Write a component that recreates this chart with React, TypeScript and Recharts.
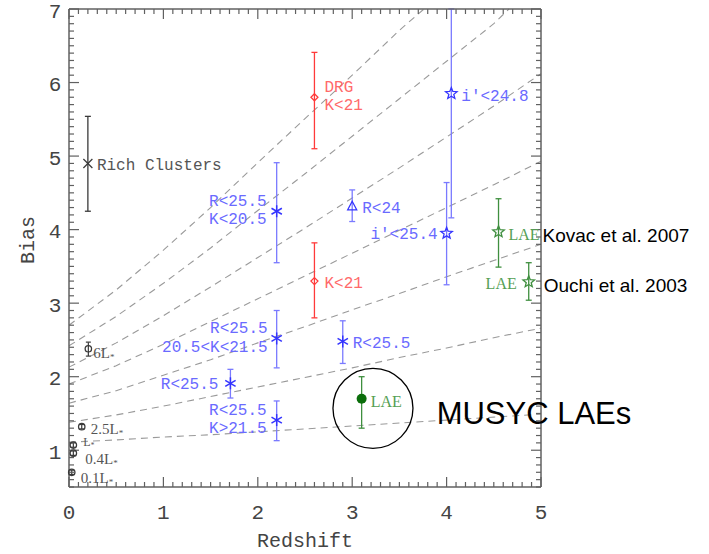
import React from 'react';
import { ComposedChart, XAxis, YAxis, Scatter, Line, ErrorBar, ReferenceDot } from 'recharts';

type Pt = { z: number; bias: number; err: number | [number, number]; label: string[] };
type TrackPt = { z: number; bias: number };
type Place = { side: 'left' | 'right'; dx: number; dy: number; size?: number };
type Note = { text: string; dx: number; dy: number; size: number };

// ---- dashed bias-evolution tracks (bias vs redshift) ----
const track1: TrackPt[] = [
  { z: 0, bias: 1.11 }, { z: 0.5, bias: 1.14 }, { z: 1, bias: 1.18 }, { z: 1.5, bias: 1.21 },
  { z: 2, bias: 1.25 }, { z: 2.5, bias: 1.29 }, { z: 3, bias: 1.33 }, { z: 3.5, bias: 1.37 },
  { z: 4, bias: 1.41 }, { z: 4.5, bias: 1.45 }, { z: 5, bias: 1.49 },
];
const track2: TrackPt[] = [
  { z: 0, bias: 1.38 }, { z: 0.5, bias: 1.48 }, { z: 1, bias: 1.6 }, { z: 1.5, bias: 1.73 },
  { z: 2, bias: 1.86 }, { z: 2.5, bias: 1.99 }, { z: 3, bias: 2.12 }, { z: 3.5, bias: 2.26 },
  { z: 4, bias: 2.39 }, { z: 4.5, bias: 2.53 }, { z: 5, bias: 2.66 },
];
const track3: TrackPt[] = [
  { z: 0, bias: 1.64 }, { z: 0.5, bias: 1.81 }, { z: 1, bias: 2.02 }, { z: 1.5, bias: 2.23 },
  { z: 2, bias: 2.46 }, { z: 2.5, bias: 2.68 }, { z: 3, bias: 2.91 }, { z: 3.5, bias: 3.13 },
  { z: 4, bias: 3.36 }, { z: 4.5, bias: 3.58 }, { z: 5, bias: 3.8 },
];
const track4: TrackPt[] = [
  { z: 0, bias: 1.9 }, { z: 0.5, bias: 2.15 }, { z: 1, bias: 2.44 }, { z: 1.5, bias: 2.75 },
  { z: 2, bias: 3.06 }, { z: 2.5, bias: 3.37 }, { z: 3, bias: 3.68 }, { z: 3.5, bias: 3.99 },
  { z: 4, bias: 4.3 }, { z: 4.5, bias: 4.61 }, { z: 5, bias: 4.93 },
];
const track5: TrackPt[] = [
  { z: 0, bias: 2.13 }, { z: 0.5, bias: 2.46 }, { z: 1, bias: 2.83 }, { z: 1.5, bias: 3.22 },
  { z: 2, bias: 3.62 }, { z: 2.5, bias: 4.02 }, { z: 3, bias: 4.43 }, { z: 3.5, bias: 4.84 },
  { z: 4, bias: 5.26 }, { z: 4.5, bias: 5.68 }, { z: 5, bias: 6.12 },
];
const track6: TrackPt[] = [
  { z: 0, bias: 2.42 }, { z: 0.5, bias: 2.82 }, { z: 1, bias: 3.27 }, { z: 1.5, bias: 3.75 },
  { z: 2, bias: 4.26 }, { z: 2.5, bias: 4.76 }, { z: 3, bias: 5.27 }, { z: 3.5, bias: 5.78 },
  { z: 4, bias: 6.29 }, { z: 4.5, bias: 6.8 }, { z: 4.66, bias: 7.0 },
];
const track7: TrackPt[] = [
  { z: 0, bias: 2.7 }, { z: 0.5, bias: 3.18 }, { z: 1, bias: 3.72 }, { z: 1.5, bias: 4.3 },
  { z: 2, bias: 4.91 }, { z: 2.5, bias: 5.51 }, { z: 3, bias: 6.1 }, { z: 3.5, bias: 6.71 },
  { z: 3.76, bias: 7.0 },
];
const tracks = [track1, track2, track3, track4, track5, track6, track7];

// ---- measurements ----
const richClusters: Pt[] = [{ z: 0.2, bias: 4.9, err: [0.65, 0.64], label: ['Rich Clusters'] }];
const localGalaxies: Pt[] = [
  { z: 0.205, bias: 2.38, err: [0.1, 0.09], label: ['6L*'] },
  { z: 0.135, bias: 1.32, err: 0.03, label: ['2.5L*'] },
  { z: 0.046, bias: 1.07, err: 0.03, label: ['L*'] },
  { z: 0.046, bias: 0.96, err: 0.03, label: ['0.4L*'] },
  { z: 0.029, bias: 0.7, err: 0.03, label: ['0.1L*'] },
];
const brightCut: Pt[] = [
  { z: 2.2, bias: 4.25, err: [0.7, 0.66], label: ['R<25.5', 'K<20.5'] },
  { z: 2.2, bias: 2.52, err: [0.4, 0.38], label: ['R<25.5', '20.5<K<21.5'] },
  { z: 1.71, bias: 1.91, err: [0.2, 0.19], label: ['R<25.5'] },
  { z: 2.2, bias: 1.41, err: [0.28, 0.26], label: ['R<25.5', 'K>21.5'] },
  { z: 2.9, bias: 2.48, err: [0.3, 0.28], label: ['R<25.5'] },
];
const lbgR24: Pt[] = [{ z: 3.0, bias: 4.31, err: [0.2, 0.23], label: ['R<24'] }];
const idropouts: Pt[] = [
  { z: 4.0, bias: 3.95, err: [0.7, 0.69], label: ["i'<25.4"] },
  { z: 4.05, bias: 5.85, err: [1.69, 1.15], label: ["i'<24.8"] },
];
const redGalaxies: Pt[] = [
  { z: 2.6, bias: 5.8, err: [0.7, 0.61], label: ['DRG', 'K<21'] },
  { z: 2.6, bias: 3.3, err: [0.5, 0.52], label: ['K<21'] },
];
const laeLiterature: Pt[] = [
  { z: 4.55, bias: 3.97, err: [0.48, 0.45], label: ['LAE'] },
  { z: 4.87, bias: 3.29, err: [0.25, 0.26], label: ['LAE'] },
];
const laeMusyc: Pt[] = [{ z: 3.1, bias: 1.7, err: [0.4, 0.3], label: ['LAE'] }];
const musycRing = { z: 3.22, bias: 1.57 };

// ---- axes ----
const X_MIN = 0;
const X_MAX = 5;
const Y_MIN = 0.5;
const Y_MAX = 7;
const xMajor = [0, 1, 2, 3, 4, 5];
const yMajor = [1, 2, 3, 4, 5, 6, 7];
const xTicks = Array.from({ length: 51 }, (_, i) => +(i * 0.1).toFixed(1));
const yTicks = Array.from({ length: 66 }, (_, i) => +(0.5 + i * 0.1).toFixed(1));

// ---- chart layout ----
const CHART_W = 709;
const CHART_H = 554;
const MARGIN = { top: 9, right: 168, bottom: 0, left: 0 };
const Y_AXIS_W = 69;
const X_AXIS_H = 67;
const PLOT_LEFT = MARGIN.left + Y_AXIS_W;
const PLOT_TOP = MARGIN.top;
const PLOT_W = CHART_W - MARGIN.left - MARGIN.right - Y_AXIS_W;
const PLOT_H = CHART_H - MARGIN.top - MARGIN.bottom - X_AXIS_H;

// ---- label placement ----
const R = (dx = 10, dy = 2, size?: number): Place => ({ side: 'right', dx, dy, size });
const L = (dx = 10, dy = 2, size?: number): Place => ({ side: 'left', dx, dy, size });

const FRAME = '#606060';
const INK = '#444';
const MONO = '"Liberation Mono", "DejaVu Sans Mono", monospace';
const SERIF = '"Liberation Serif", "DejaVu Serif", serif';
const SANS = '"Liberation Sans", Arial, sans-serif';

const BLUE = '#3434ff';
const BLUE_BAR = '#7a7aff';
const BLUE_TEXT = '#6a6aff';
const RED = '#ff3a3a';
const RED_TEXT = '#ff6a6a';
const GREEN = '#0b6e0b';
const GREEN_BAR = '#3f8f3f';
const GREEN_TEXT = '#54a054';
const GRAY = '#3a3a3a';
const GRAY_TEXT = '#555';

const isMajor = (v: number) => Math.abs(v - Math.round(v)) < 1e-6;

// Frame (top/right edges) and inward minor/major ticks on all four sides,
// laid out on the same plot rectangle the axes occupy.
function FrameMarks() {
  const sx = (z: number) => PLOT_LEFT + ((z - X_MIN) / (X_MAX - X_MIN)) * PLOT_W;
  const sy = (b: number) => PLOT_TOP + ((Y_MAX - b) / (Y_MAX - Y_MIN)) * PLOT_H;
  const left = PLOT_LEFT;
  const right = PLOT_LEFT + PLOT_W;
  const top = PLOT_TOP;
  const bottom = PLOT_TOP + PLOT_H;
  return (
    <g stroke={FRAME} fill="none">
      <g strokeWidth={1.5}>
        <line x1={left} y1={top} x2={right} y2={top} />
        <line x1={right} y1={top} x2={right} y2={bottom} />
      </g>
      <g strokeWidth={1.2}>
        {xTicks.map((v) => {
          const len = isMajor(v) ? 10 : 5;
          const x = sx(v);
          return (
            <g key={`x${v}`}>
              <line x1={x} y1={bottom} x2={x} y2={bottom - len} />
              <line x1={x} y1={top} x2={x} y2={top + len} />
            </g>
          );
        })}
        {yTicks.map((v) => {
          const len = isMajor(v) ? 10 : 5;
          const y = sy(v);
          return (
            <g key={`y${v}`}>
              <line x1={left} y1={y} x2={left + len} y2={y} />
              <line x1={right} y1={y} x2={right - len} y2={y} />
            </g>
          );
        })}
      </g>
    </g>
  );
}

type Kind = 'x' | 'circle' | 'asterisk' | 'triangle' | 'diamond' | 'star' | 'dot';

function Marker({ kind, cx, cy, color }: { kind: Kind; cx: number; cy: number; color: string }) {
  const sw = 1.3;
  switch (kind) {
    case 'x':
      return (
        <g stroke={color} strokeWidth={sw}>
          <line x1={cx - 4.5} y1={cy - 4.5} x2={cx + 4.5} y2={cy + 4.5} />
          <line x1={cx - 4.5} y1={cy + 4.5} x2={cx + 4.5} y2={cy - 4.5} />
        </g>
      );
    case 'circle':
      return <circle cx={cx} cy={cy} r={3.2} fill="none" stroke={color} strokeWidth={sw} />;
    case 'asterisk': {
      const a = 6;
      const c = a * Math.cos(Math.PI / 6);
      const s = a * Math.sin(Math.PI / 6);
      return (
        <g stroke={color} strokeWidth={1.5}>
          <line x1={cx} y1={cy - a} x2={cx} y2={cy + a} />
          <line x1={cx - c} y1={cy - s} x2={cx + c} y2={cy + s} />
          <line x1={cx - c} y1={cy + s} x2={cx + c} y2={cy - s} />
        </g>
      );
    }
    case 'triangle':
      return (
        <polygon
          points={`${cx},${cy - 5.5} ${cx - 4.5},${cy + 3} ${cx + 4.5},${cy + 3}`}
          fill="none"
          stroke={color}
          strokeWidth={sw}
        />
      );
    case 'diamond':
      return (
        <polygon
          points={`${cx},${cy - 3.5} ${cx + 3.5},${cy} ${cx},${cy + 3.5} ${cx - 3.5},${cy}`}
          fill="none"
          stroke={color}
          strokeWidth={sw}
        />
      );
    case 'star': {
      const pts: string[] = [];
      for (let k = 0; k < 10; k++) {
        const r = k % 2 === 0 ? 6 : 2.6;
        const ang = -Math.PI / 2 + (k * Math.PI) / 5;
        pts.push(`${cx + r * Math.cos(ang)},${cy + r * Math.sin(ang)}`);
      }
      return <polygon points={pts.join(' ')} fill="none" stroke={color} strokeWidth={sw} />;
    }
    case 'dot':
      return <circle cx={cx} cy={cy} r={5} fill={color} stroke="none" />;
  }
  return null;
}

function LabelText({ x, y, text, anchor, color, font, size }: {
  x: number; y: number; text: string; anchor: 'start' | 'end'; color: string; font: string; size: number;
}) {
  const star = text.endsWith('L*');
  const body = star ? text.slice(0, -1) : text;
  return (
    <text x={x} y={y} textAnchor={anchor} dominantBaseline="central" fill={color}
      style={{ fontFamily: font, fontSize: size }}>
      {body}
      {star && <tspan dy={4} style={{ fontSize: size * 0.6 }}>*</tspan>}
    </text>
  );
}

function makeShape(opts: {
  kind: Kind; color: string; textColor: string; font: string; size: number;
  data: Pt[]; places: Place[]; notes?: (Note | null)[]; withFrame?: boolean;
}) {
  return (props: any) => {
    const { cx, cy, payload } = props;
    if (cx == null || cy == null) return null;
    const i = opts.data.findIndex((d) => d.z === payload.z && d.bias === payload.bias);
    const pt = opts.data[i];
    const place = opts.places[i];
    const note = opts.notes ? opts.notes[i] : null;
    const size = place.size ?? opts.size;
    const lh = size * 1.15;
    const x = place.side === 'right' ? cx + place.dx : cx - place.dx;
    const y0 = cy + place.dy - ((pt.label.length - 1) * lh) / 2;
    return (
      <g>
        {opts.withFrame && i === 0 && <FrameMarks />}
        <Marker kind={opts.kind} cx={cx} cy={cy} color={opts.color} />
        {pt.label.map((t, k) => (
          <LabelText key={k} x={x} y={y0 + k * lh} text={t}
            anchor={place.side === 'right' ? 'start' : 'end'}
            color={opts.textColor} font={opts.font} size={size} />
        ))}
        {note && (
          <text x={cx + note.dx} y={cy + note.dy} dominantBaseline="central" fill="#000"
            style={{ fontFamily: SANS, fontSize: note.size }}>
            {note.text}
          </text>
        )}
      </g>
    );
  };
}

const BottomTickLabel = (p: any) => (
  <text x={p.x} y={p.y + 26} textAnchor="middle" dominantBaseline="central" fill={INK}
    style={{ fontFamily: MONO, fontSize: 21 }}>
    {p.payload.value}
  </text>
);
const LeftTickLabel = (p: any) => (
  <text x={p.x - 14} y={p.y + 3} textAnchor="middle" dominantBaseline="central" fill={INK}
    style={{ fontFamily: MONO, fontSize: 21 }}>
    {p.payload.value}
  </text>
);

const frameStyle = { stroke: FRAME, strokeWidth: 1.5 };

export default function App() {
  return (
    <div style={{ position: 'absolute', left: 0, top: 0, background: '#fff' }}>
      <ComposedChart width={CHART_W} height={CHART_H} margin={MARGIN}>
        <XAxis dataKey="z" type="number" domain={[X_MIN, X_MAX]} ticks={xMajor} interval={0}
          height={X_AXIS_H} tickLine={false} tickSize={0} tickMargin={0} axisLine={frameStyle}
          tick={BottomTickLabel}
          label={(p: any) => {
            const vb = p.viewBox;
            return (
              <text x={vb.x + vb.width / 2} y={vb.y + 54} textAnchor="middle" dominantBaseline="central"
                fill={INK} style={{ fontFamily: MONO, fontSize: 20 }}>Redshift</text>
            );
          }} />
        <YAxis dataKey="bias" type="number" domain={[Y_MIN, Y_MAX]} ticks={yMajor} interval={0}
          width={Y_AXIS_W} tickLine={false} tickSize={0} tickMargin={0} axisLine={frameStyle}
          tick={LeftTickLabel}
          label={(p: any) => {
            const vb = p.viewBox;
            const cx = vb.x + 28;
            const cy = vb.y + vb.height / 2 - 8;
            return (
              <text x={cx} y={cy} textAnchor="middle" dominantBaseline="central" fill={INK}
                transform={`rotate(-90, ${cx}, ${cy})`} style={{ fontFamily: MONO, fontSize: 20 }}>Bias</text>
            );
          }} />

        {tracks.map((t, k) => (
          <Line key={`track${k}`} data={t} dataKey="bias" type="linear" stroke="#9a9a9a" strokeWidth={1.1}
            strokeDasharray="7 5" dot={false} activeDot={false} isAnimationActive={false} />
        ))}

        <Scatter data={richClusters} dataKey="bias" isAnimationActive={false}
          shape={makeShape({ kind: 'x', color: GRAY, textColor: GRAY_TEXT, font: MONO, size: 16,
            data: richClusters, places: [R(9, 3)], withFrame: true })}>
          <ErrorBar dataKey="err" direction="y" width={3} stroke={GRAY} strokeWidth={1.3} />
        </Scatter>
        <Scatter data={localGalaxies} dataKey="bias" isAnimationActive={false}
          shape={makeShape({ kind: 'circle', color: GRAY, textColor: GRAY_TEXT, font: SERIF, size: 15,
            data: localGalaxies, places: [R(5, 4), R(9, 2), R(10, -3, 12), R(12, 6), R(9, 6)] })}>
          <ErrorBar dataKey="err" direction="y" width={2.5} stroke={GRAY} strokeWidth={1.2} />
        </Scatter>
        <Scatter data={brightCut} dataKey="bias" isAnimationActive={false}
          shape={makeShape({ kind: 'asterisk', color: BLUE, textColor: BLUE_TEXT, font: MONO, size: 16,
            data: brightCut, places: [L(10, 0), L(9, 0), L(12, 2), L(10, 0), R(10, 3)] })}>
          <ErrorBar dataKey="err" direction="y" width={3} stroke={BLUE_BAR} strokeWidth={1.3} />
        </Scatter>
        <Scatter data={lbgR24} dataKey="bias" isAnimationActive={false}
          shape={makeShape({ kind: 'triangle', color: BLUE, textColor: BLUE_TEXT, font: MONO, size: 16,
            data: lbgR24, places: [R(10, 2)] })}>
          <ErrorBar dataKey="err" direction="y" width={3} stroke={BLUE_BAR} strokeWidth={1.3} />
        </Scatter>
        <Scatter data={idropouts} dataKey="bias" isAnimationActive={false}
          shape={makeShape({ kind: 'star', color: BLUE, textColor: BLUE_TEXT, font: MONO, size: 16,
            data: idropouts, places: [L(9, 2), R(10, 3)] })}>
          <ErrorBar dataKey="err" direction="y" width={3} stroke={BLUE_BAR} strokeWidth={1.3} />
        </Scatter>
        <Scatter data={redGalaxies} dataKey="bias" isAnimationActive={false}
          shape={makeShape({ kind: 'diamond', color: RED, textColor: RED_TEXT, font: MONO, size: 16,
            data: redGalaxies, places: [R(10, 0), R(10, 3)] })}>
          <ErrorBar dataKey="err" direction="y" width={3} stroke={RED} strokeWidth={1.3} />
        </Scatter>
        <Scatter data={laeLiterature} dataKey="bias" isAnimationActive={false}
          shape={makeShape({ kind: 'star', color: GREEN_BAR, textColor: GREEN_TEXT, font: SERIF, size: 16,
            data: laeLiterature, places: [R(10, 3), L(12, 2)],
            notes: [
              { text: 'Kovac et al. 2007', dx: 44, dy: 4, size: 19 },
              { text: 'Ouchi et al. 2003', dx: 15, dy: 4, size: 19 },
            ] })}>
          <ErrorBar dataKey="err" direction="y" width={3} stroke={GREEN_BAR} strokeWidth={1.3} />
        </Scatter>
        <Scatter data={laeMusyc} dataKey="bias" isAnimationActive={false}
          shape={makeShape({ kind: 'dot', color: GREEN, textColor: GREEN_TEXT, font: SERIF, size: 16,
            data: laeMusyc, places: [R(9, 3)],
            notes: [{ text: 'MUSYC LAEs', dx: 75, dy: 15, size: 31 }] })}>
          <ErrorBar dataKey="err" direction="y" width={3} stroke={GREEN_BAR} strokeWidth={1.3} />
        </Scatter>

        <ReferenceDot x={musycRing.z} y={musycRing.bias} r={40} fill="none" stroke="#000" strokeWidth={1.3} />
      </ComposedChart>
    </div>
  );
}
